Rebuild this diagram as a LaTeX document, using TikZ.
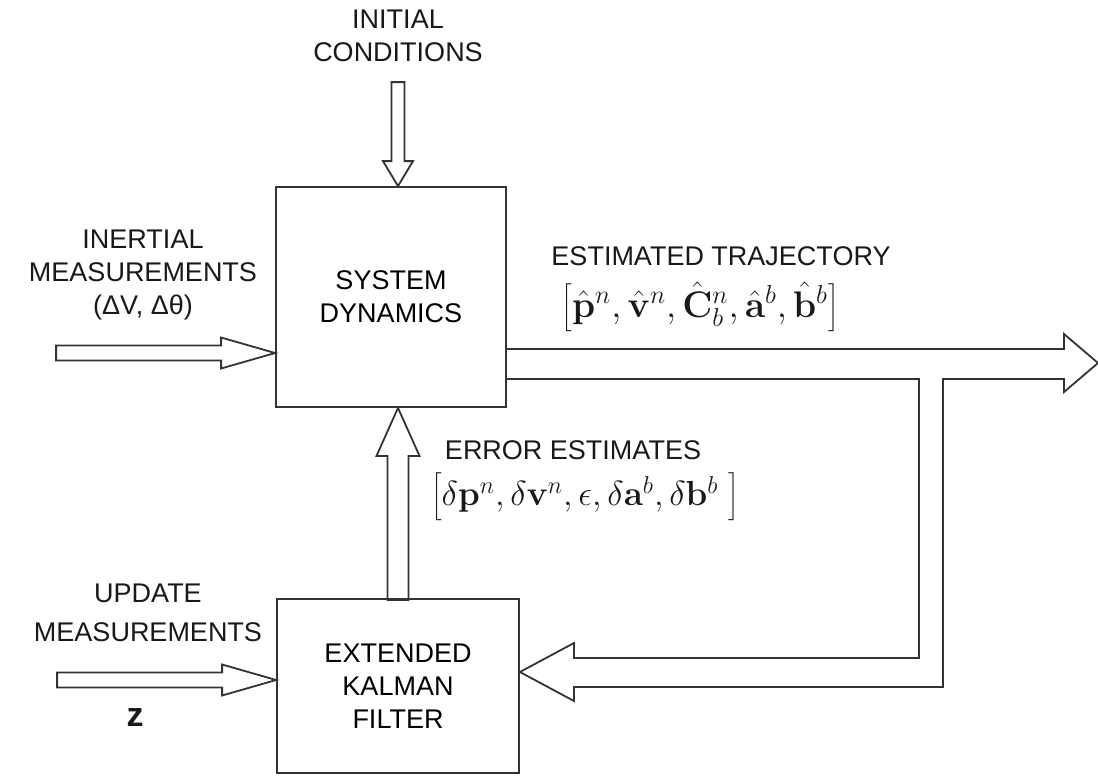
\RequirePackage{fix-cm}
\documentclass[tikz,border=0pt]{standalone}
\usepackage[no-math]{fontspec}
\setmainfont{Liberation Sans}
\usetikzlibrary{positioning}
\tikzset{
  block/.style={draw=black!80, line width=0.9pt, minimum width=115pt, minimum height=110pt, align=center},
  hollow/.style={draw=black!80, line width=0.9pt, line join=miter},
  lbl/.style={align=center, text=black!90},
  mathlbl/.style={lbl, font=\fontsize{18.5}{21}\selectfont},
}

\begin{document}
\begin{tikzpicture}[x=0.5pt, y=-0.5pt, font=\fontsize{13.5}{16.5}\selectfont]
        \useasboundingbox (0,0) rectangle (1098,777);
        \node[block] (sd) at (391,297) {SYSTEM\\DYNAMICS};
        \node[block, minimum width=121pt, minimum height=87pt] (ekf) at (398,686) {EXTENDED\\KALMAN\\FILTER};
        \node[lbl] (ic) at (398,36) {INITIAL\\CONDITIONS};
        \node[lbl] (im) at (143,275) {INERTIAL\\MEASUREMENTS\\(ΔV, Δθ)};
        \node[lbl] (um) at (148,613) {UPDATE\\[3pt]MEASUREMENTS};
        \node[lbl, font=\fontsize{17}{19}\selectfont] (z) at (135,718) {\textbf{z}};
        \node[lbl] (et) at (721,256) {ESTIMATED TRAJECTORY};
        \node[mathlbl] (etv) at (700,307) {$\left[\hat{\mathbf{p}}^n, \hat{\mathbf{v}}^n, \hat{\mathbf{C}}^n_b, \hat{\mathbf{a}}^b, \hat{\mathbf{b}}^b\right]$};
        \node[lbl] (ee) at (573,450) {ERROR ESTIMATES};
        \node[mathlbl, font=\fontsize{17.4}{20}\selectfont] (eev) at (585,497) {$\left[\delta\mathbf{p}^n, \delta\mathbf{v}^n, \epsilon, \delta\mathbf{a}^b, \delta\mathbf{b}^b\;\right]$};
        % hollow arrows
        \draw[hollow] (ekf.north |- sd.north) -- ++(-15,-25) -- ++(8.5,0) -- ++(0,-79)
        -- ++(13,0) -- ++(0,79) -- ++(8.5,0) -- cycle;
        \draw[hollow] (sd.west |- 0,353) -- ++(-54,-15.5) -- ++(0,8) -- ++(-165,0)
        -- ++(0,15) -- ++(165,0) -- ++(0,8) -- cycle;
        \draw[hollow] (ekf.west |- 0,680) -- ++(-54,-15.5) -- ++(0,8) -- ++(-165,0)
        -- ++(0,15) -- ++(165,0) -- ++(0,8) -- cycle;
        \draw[hollow] (ekf.north |- sd.south) -- ++(-21.5,48) -- ++(11,0) -- ++(0,144)
        -- ++(21,0) -- ++(0,-144) -- ++(11,0) -- cycle;
        \draw[hollow] (sd.east |- 0,349) -- (1064,349) -- (1064,334) -- (1098,363)
        -- (1064,392) -- (1064,379) -- (943,379) -- (943,687) -- (574,687) -- (574,701)
        -- (ekf.east |- 0,672) -- (574,643) -- (574,658) -- (919,658) -- (919,379)
        -- (sd.east |- 0,379);
    \end{tikzpicture}
\end{document}
